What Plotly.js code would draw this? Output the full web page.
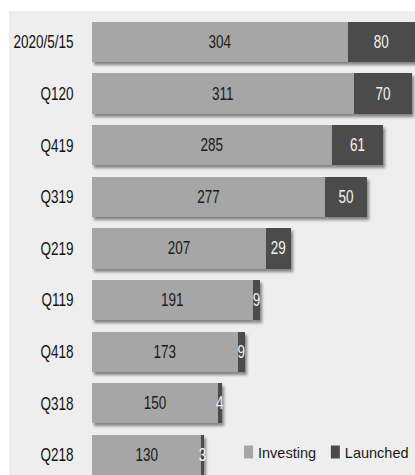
<!DOCTYPE html>
<html>
<head>
<meta charset="utf-8">
<script src="https://cdn.plot.ly/plotly-3.0.1.min.js"></script>
<style>
html, body { margin: 0; padding: 0; background: #ffffff; }
#chart { width: 415px; height: 475px; }
.barlayer .point path { filter: drop-shadow(2px 3px 1.5px rgba(0,0,0,0.45)); }
#chart .legendpoints path {
  transform: translate(30.5px, 0px) scale(0.75, 1.08);
}
</style>
</head>
<body>
<div id="chart"></div>
<script>
const categories = ["2020/5/15", "Q120", "Q419", "Q319", "Q219", "Q119", "Q418", "Q318", "Q218"];
const investing = [304, 311, 285, 277, 207, 191, 173, 150, 130];
const launched = [80, 70, 61, 50, 29, 9, 9, 4, 3];

const FONT = '"Liberation Sans", Arial, sans-serif';

const traces = [
  {
    type: 'bar', orientation: 'h', name: 'Investing', legend: 'legend',
    y: categories, x: investing,
    text: investing.map(String), textposition: 'inside', insidetextanchor: 'middle',
    constraintext: 'none', textangle: 0,
    textfont: { family: FONT, size: 18, color: '#1a1a1a' },
    marker: { color: '#a6a6a6', line: { width: 0 } },
    hoverinfo: 'none'
  },
  {
    type: 'bar', orientation: 'h', name: 'Launched', legend: 'legend2',
    y: categories, x: launched,
    text: launched.map(String), textposition: 'inside', insidetextanchor: 'middle',
    constraintext: 'none', textangle: 0,
    textfont: { family: FONT, size: 18, color: '#f2f2f2' },
    marker: { color: '#4b4b4b', line: { width: 0 } },
    hoverinfo: 'none'
  }
];

const legendBase = {
  orientation: 'h', xanchor: 'left', y: 0.05, yanchor: 'middle',
  bgcolor: 'rgba(0,0,0,0)', borderwidth: 0,
  font: { family: FONT, size: 14.5, color: '#1a1a1a' },
  itemwidth: 30
};

const layout = {
  width: 415, height: 475,
  margin: { l: 92, r: 0, t: 16, b: 0, pad: 0, autoexpand: false },
  paper_bgcolor: '#ffffff',
  plot_bgcolor: 'rgba(0,0,0,0)',
  barmode: 'stack',
  bargap: 0.22,
  showlegend: true,
  legend: Object.assign({}, legendBase, { x: 0.390 }),
  legend2: Object.assign({}, legendBase, { x: 0.659 }),
  xaxis: {
    range: [0, 384], showgrid: false, zeroline: false, showticklabels: false,
    showline: false, ticks: '', automargin: false
  },
  yaxis: {
    type: 'category', categoryorder: 'array', categoryarray: categories,
    range: [8.39, -0.504], showgrid: false, zeroline: false, showline: false,
    ticks: 'outside', ticklen: 14, tickcolor: 'rgba(0,0,0,0)', automargin: false,
    tickfont: { family: FONT, size: 18, color: '#111111' }
  },
  shapes: [{
    type: 'rect', xref: 'paper', yref: 'paper', layer: 'below',
    x0: -0.257, x1: 1.01, y0: -0.05, y1: 1.0109,
    fillcolor: '#eeeeee', line: { width: 0 }
  }],
  font: { family: FONT }
};

// Narrow the text horizontally (condensed look) around its anchor point.
function condense(el, sx) {
  const cur = el.getAttribute('transform') || '';
  if (el.dataset.condensed && cur === el.dataset.condensed) return;
  const bb = el.getBBox();
  const anchor = el.getAttribute('text-anchor') || el.style.textAnchor || 'start';
  let ox = bb.x;
  if (anchor === 'end') ox = bb.x + bb.width;
  else if (anchor === 'middle') ox = bb.x + bb.width / 2;
  const next = cur + ' translate(' + ox + ',0) scale(' + sx + ',1) translate(' + (-ox) + ',0)';
  el.setAttribute('transform', next);
  el.dataset.condensed = next;
}

function styleText(gd) {
  gd.querySelectorAll('.ytick text').forEach(t => condense(t, 0.75));
  gd.querySelectorAll('.bartext').forEach(t => condense(t, 0.75));
}

Plotly.newPlot('chart', traces, layout, { displayModeBar: false, staticPlot: true }).then(gd => {
  styleText(gd);
  setTimeout(() => styleText(gd), 50);
  setTimeout(() => styleText(gd), 300);
});
</script>
</body>
</html>
